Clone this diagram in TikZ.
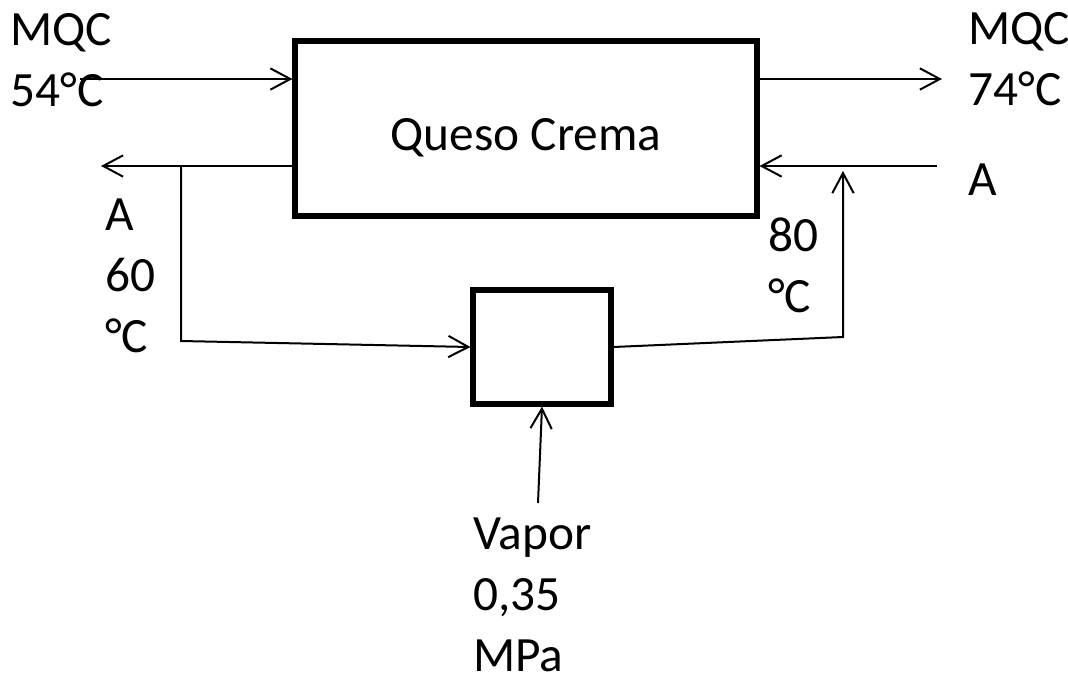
\documentclass[tikz,border=0pt]{standalone}
\usepackage{fontspec}
\setmainfont{Carlito}
\usetikzlibrary{arrows.meta}
\begin{document}
\begin{tikzpicture}[x=0.75pt,y=-0.75pt,
  txt/.style={anchor=base west,inner sep=0pt,align=left,font=\fontsize{37}{45.4}\selectfont},
  unit/.style={draw,line width=3.8pt,inner sep=0pt},
  flow/.style={line width=1.5pt,-{Straight Barb[length=15pt,width=16pt,line width=1.5pt]}}]
\useasboundingbox (0,0) rectangle (1068,676);
\node[unit,minimum width=346.5pt,minimum height=131.25pt] (qc) at (526,128.5) {};
\node[anchor=base,inner sep=0pt,font=\fontsize{37}{45.4}\selectfont] (qct) at (526,150) {Queso Crema};
\node[unit,minimum width=103.5pt,minimum height=85.5pt] (hx) at (542,347) {};
\node[txt] (tin) at (10,106) {MQC\\54°C};
\node[txt] (tout) at (968,105) {MQC\\74°C};
\node[txt] (ta) at (968,195) {A};
\node[txt] (tl) at (105,352) {A\\60\\°C};
\node[txt] (tr) at (768,312) {80\\°C};
\node[txt] (tv) at (473,671) {Vapor\\0,35\\MPa};
\coordinate (in1) at (80,79);
\coordinate (out1) at (942,79);
\coordinate (outl) at (101,166);
\coordinate (br) at (181,166);
\coordinate (brd) at (181,341);
\coordinate (rin) at (937,166);
\coordinate (rc) at (843,337);
\coordinate (rup) at (843,171);
\coordinate (vs) at (538,503);
\draw[flow] (in1) -- (in1 -| qc.west);
\draw[flow] (out1 -| qc.east) -- (out1);
\draw[flow] (outl -| qc.west) -- (outl);
\draw[flow] (br) -- (brd) -- (hx.west);
\draw[flow] (hx.east) -- (rc) -- (rup);
\draw[flow] (rin) -- (rin -| qc.east);
\draw[flow] (vs) -- (hx.south);
\end{tikzpicture}
\end{document}
